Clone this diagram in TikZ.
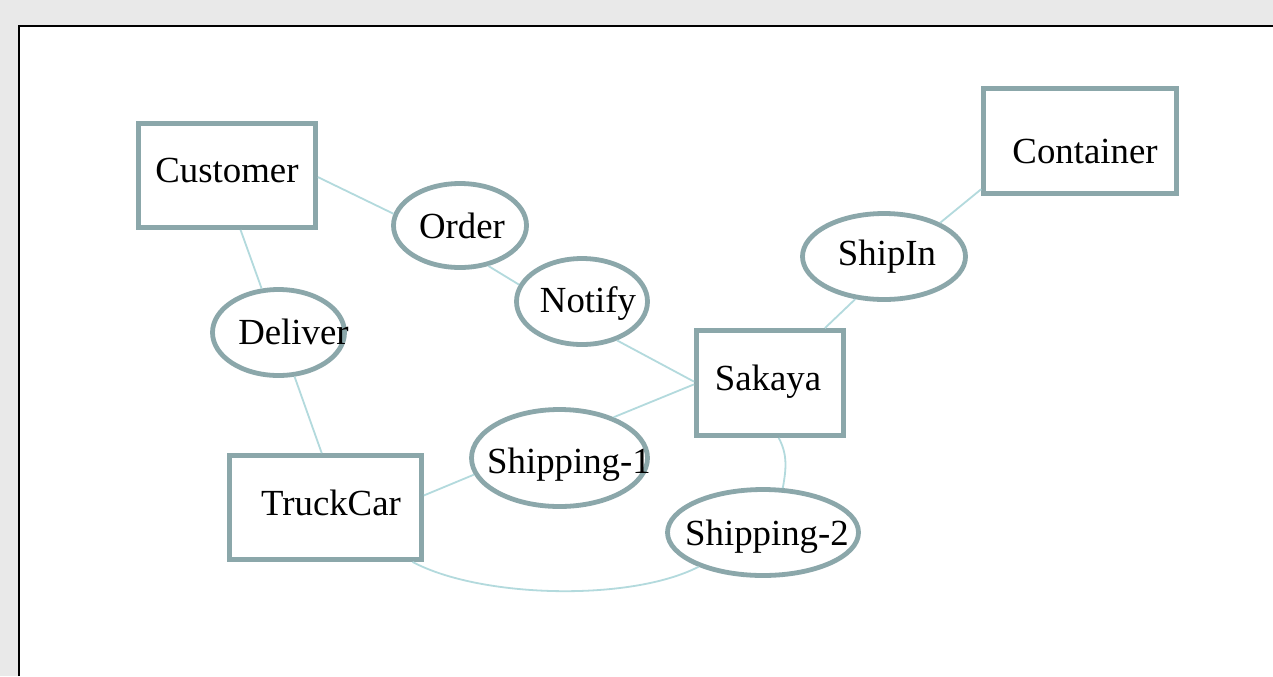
\documentclass[tikz,border=0pt]{standalone}
\usepackage{fontspec}
\setmainfont{Liberation Serif}
\usepackage{tikz}
\usetikzlibrary{shapes.geometric}

\definecolor{pagegray}{HTML}{E9E9E9}
\definecolor{shapeline}{HTML}{8BA7AA}
\definecolor{linkline}{HTML}{B3DADD}

\begin{document}
\begin{tikzpicture}[x=0.5pt,y=-0.5pt,
    entity/.style={draw=shapeline,line width=2.4pt,rectangle,fill=white,
      inner sep=0pt},
    relation/.style={draw=shapeline,line width=2.4pt,ellipse,fill=white,
      inner sep=0pt},
    every label/.style={font=\fontsize{18.4}{22}\selectfont,inner sep=0pt},
    link/.style={draw=linkline,line width=0.9pt}]
    % page and frame
    \useasboundingbox (0,0) rectangle (1273,676);
    \fill[pagegray] (0,0) rectangle (1273,676);
    \fill[white] (18,25) rectangle (1273,676);
    \draw[black,line width=1pt] (18.5,676) -- (18.5,25.5) -- (1273,25.5);
    % entities
    \node[entity,minimum width=88.5pt,minimum height=52pt,
      label={[yshift=2.5pt]center:Customer}] (customer) at (227,175.5) {};
    \node[entity,minimum width=96.5pt,minimum height=52.5pt,
      label={[xshift=2.5pt,yshift=-5pt]center:Container}] (container) at (1080,141) {};
    \node[entity,minimum width=73.5pt,minimum height=52.5pt,
      label={[xshift=-1pt,yshift=0.5pt]center:Sakaya}] (sakaya) at (770,383) {};
    \node[entity,minimum width=96pt,minimum height=52pt,
      label={[xshift=2.75pt,yshift=2.5pt]center:TruckCar}] (truckcar) at (325.5,507.5) {};
    % relations
    \node[relation,minimum width=66.5pt,minimum height=42pt,
      label={[xshift=1pt]center:Order}] (order) at (460,225.5) {};
    \node[relation,minimum width=65.5pt,minimum height=43pt,
      label={[xshift=3pt,yshift=-1pt]center:Notify}] (notify) at (582,301.5) {};
    \node[relation,minimum width=81.5pt,minimum height=43pt,
      label={[xshift=1.5pt]center:ShipIn}] (shipin) at (884,256.5) {};
    \node[relation,minimum width=66pt,minimum height=43pt,
      label={[xshift=7.5pt,yshift=0.5pt]center:Deliver}] (deliver) at (278.5,332.5) {};
    \node[relation,minimum width=88pt,minimum height=48.5pt,
      label={[xshift=4.75pt,yshift=-3.5pt]center:Shipping-1}] (shipone) at (559.5,458) {};
    \node[relation,minimum width=95.5pt,minimum height=43pt,
      label={[xshift=2pt,yshift=-2pt]center:Shipping-2}] (shiptwo) at (763,532.5) {};
    % connectors
    \draw[link] (customer.-1) -- (order.170);
    \draw[link] (order.-55) -- (notify.165);
    \draw[link] (notify.-48) -- (sakaya.179);
    \draw[link] (shipone.37) -- (sakaya.181.5);
    \draw[link] (sakaya.45.5) -- (shipin.236);
    \draw[link] (shipin.31) -- (container.206);
    \draw[link] (customer.-76) -- (deliver.111);
    \draw[link] (deliver.-70) -- (truckcar.94.6);
    \draw[link] (truckcar.7.8) -- (shipone.191.5);
    \draw[link] (sakaya.-81.7) .. controls (788,455) and (786,470) .. (shiptwo.66.3);
    \draw[link] (truckcar.-32.4) .. controls (480,598) and (630,602) .. (shiptwo.208.3);
\end{tikzpicture}
\end{document}
